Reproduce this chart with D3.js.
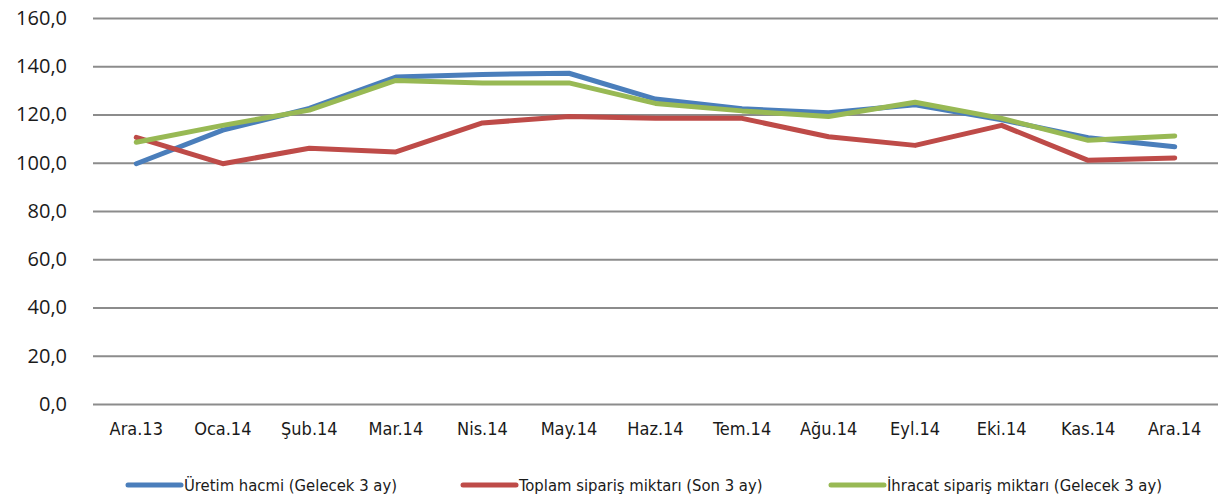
<!DOCTYPE html>
<html>
<head>
<meta charset="utf-8">
<script src="https://cdn.jsdelivr.net/npm/d3@7"></script>
<style>
  body { margin: 0; background: #fff; }
  .grid line { stroke: #8c8c8c; stroke-width: 2; }
  .grid path { display: none; }
  .yaxis text { font-family: "Open Sans", "Noto Sans", sans-serif; font-size: 20px; fill: #1a1a1a; }
  .xaxis text { font-family: "Liberation Sans Narrow", "DejaVu Sans Condensed", sans-serif; font-size: 18px; fill: #1a1a1a; }
  .legend text { font-family: "Liberation Sans Narrow", "DejaVu Sans Condensed", sans-serif; font-size: 16.5px; fill: #1a1a1a; }
</style>
</head>
<body>
<div id="chart"></div>
<script>
const months = ['Ara.13', 'Oca.14', 'Şub.14', 'Mar.14', 'Nis.14', 'May.14', 'Haz.14',
  'Tem.14', 'Ağu.14', 'Eyl.14', 'Eki.14', 'Kas.14', 'Ara.14'];
const uretim = [99.6, 113.5, 122.5, 135.5, 136.6, 137.1, 126.4, 122.4, 120.7, 124.0, 117.8, 110.4, 106.6];
const toplam = [110.5, 99.6, 106.0, 104.5, 116.5, 119.2, 118.4, 118.4, 110.8, 107.2, 115.5, 101.0, 102.0];
const ihracat = [108.5, 115.5, 121.8, 134.1, 133.1, 133.1, 124.6, 121.5, 119.2, 125.1, 118.4, 109.3, 111.1];
const seriesNames = ['Üretim hacmi (Gelecek 3 ay)', 'Toplam sipariş miktarı (Son 3 ay)', 'İhracat sipariş miktarı (Gelecek 3 ay)'];
const seriesColors = ['#4a7ebb', '#be4b48', '#98b954'];
const yTicks = [0, 20, 40, 60, 80, 100, 120, 140, 160];

const W = 1218, H = 502;
const margin = { top: 18, right: 0, bottom: 98, left: 93 };
const width = W - margin.left - margin.right;
const height = H - margin.top - margin.bottom;

const svg = d3.select('#chart').append('svg')
  .attr('width', W)
  .attr('height', H)
  .append('g')
  .attr('transform', 'translate(' + margin.left + ',' + margin.top + ')');

const x = d3.scaleBand().domain(months).range([0, width]);
const y = d3.scaleLinear().domain([0, 160]).range([height, 0]);
const fmt = d => d3.format('.1f')(d).replace('.', ',');

// gridlines
svg.append('g')
  .attr('class', 'grid')
  .call(d3.axisLeft(y).tickValues(yTicks).tickSize(-width).tickFormat(''));

// y labels
svg.append('g')
  .attr('class', 'yaxis')
  .call(d3.axisLeft(y).tickValues(yTicks).tickSize(0).tickPadding(26).tickFormat(fmt))
  .call(g => g.select('.domain').remove());

// x labels
svg.append('g')
  .attr('class', 'xaxis')
  .attr('transform', 'translate(0,' + height + ')')
  .call(d3.axisBottom(x).tickSize(0).tickPadding(18))
  .call(g => g.select('.domain').remove());

const data = [uretim, toplam, ihracat];
const line = d3.line()
  .x((d, i) => x(months[i]) + x.bandwidth() / 2)
  .y(d => y(d));

data.forEach((vals, k) => {
  svg.append('path')
    .datum(vals)
    .attr('d', line)
    .attr('fill', 'none')
    .attr('stroke', seriesColors[k])
    .attr('stroke-width', 5)
    .attr('stroke-linejoin', 'round')
    .attr('stroke-linecap', 'round');
});

// legend
const legendX = [128, 463, 831];
const legend = d3.select('svg').append('g').attr('class', 'legend');
seriesNames.forEach((name, k) => {
  const g = legend.append('g').attr('transform', 'translate(' + legendX[k] + ',485)');
  g.append('line')
    .attr('x1', 0).attr('x2', 53)
    .attr('stroke', seriesColors[k])
    .attr('stroke-width', 5)
    .attr('stroke-linecap', 'round');
  g.append('text')
    .attr('x', 56)
    .attr('dy', '0.35em')
    .text(name);
});
</script>
</body>
</html>
